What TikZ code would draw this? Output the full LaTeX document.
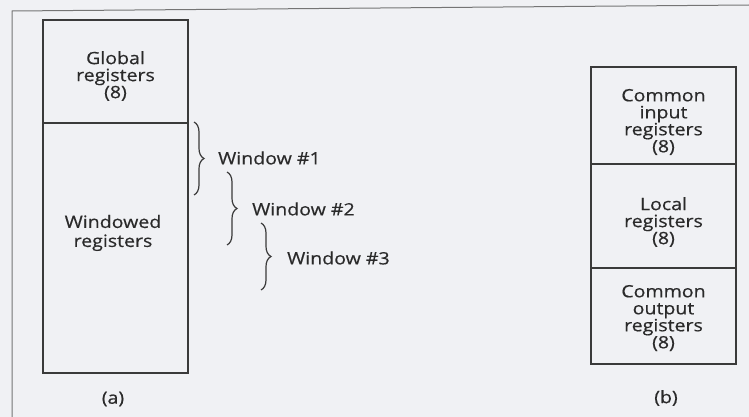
\documentclass[tikz,border=0pt]{standalone}
\usepackage{fontspec}
\setmainfont{Open Sans}[FakeStretch=1.15, FakeBold=0.5]
\usetikzlibrary{decorations.pathreplacing}
\definecolor{ink}{HTML}{3A3A3A}
\definecolor{txt}{HTML}{2A2A2A}
\definecolor{paper}{HTML}{F0F1F4}
\tikzset{
  regbox/.style={draw=ink, line width=1.3pt, minimum width=145pt, inner sep=0pt},
  lbl/.style={text=txt, font=\fontsize{17}{17}\selectfont, align=center, inner sep=0pt},
  wbrace/.style={draw=ink, line width=1.2pt, decorate, decoration={brace, amplitude=10pt}},
  frame/.style={draw=ink!70, line width=1pt}
}
\begin{document}
\begin{tikzpicture}[x=1pt, y=-1pt]
\useasboundingbox[fill=paper] (0,0) rectangle (749,417);
% outer frame
\coordinate (f1) at (12,417);
\coordinate (f2) at (12,11);
\coordinate (f3) at (749,5);
\draw[frame] (f1) -- (f2) -- (f3);
% left stack
\node[regbox, minimum height=103pt] (glob) at (115.5,71.5) {};
\node[regbox, minimum height=250pt] (wind) at (115.5,248) {};
\node[lbl] (globt) at (115.5,76) {Global\\registers\\(8)};
\node[lbl, font=\fontsize{17}{19}\selectfont] (windt) at (113,233) {Windowed\\registers};
\node[lbl] (a) at (113,399) {(a)};
% braces
\coordinate (b1t) at (194,122);
\coordinate (b1b) at (194,195);
\coordinate (b2t) at (227,172);
\coordinate (b2b) at (227,245);
\coordinate (b3t) at (261,223);
\coordinate (b3b) at (261,290);
\draw[wbrace] (b1t) -- (b1b);
\draw[wbrace] (b2t) -- (b2b);
\draw[wbrace] (b3t) -- (b3b);
\node[lbl, anchor=west] (w1) at (218,158) {Window \#1};
\node[lbl, anchor=west] (w2) at (252,209) {Window \#2};
\node[lbl, anchor=west] (w3) at (287,258) {Window \#3};
% right stack
\node[regbox, minimum height=97pt] (cin) at (663.5,115.5) {};
\node[regbox, minimum height=104pt] (loc) at (663.5,216) {};
\node[regbox, minimum height=96pt] (cout) at (663.5,316) {};
\node[lbl] (cint) at (663.5,122) {Common\\input\\registers\\(8)};
\node[lbl] (loct) at (663.5,222) {Local\\registers\\(8)};
\node[lbl] (coutt) at (663.5,318) {Common\\output\\registers\\(8)};
\node[lbl] (b) at (666,398) {(b)};
\end{tikzpicture}
\end{document}
